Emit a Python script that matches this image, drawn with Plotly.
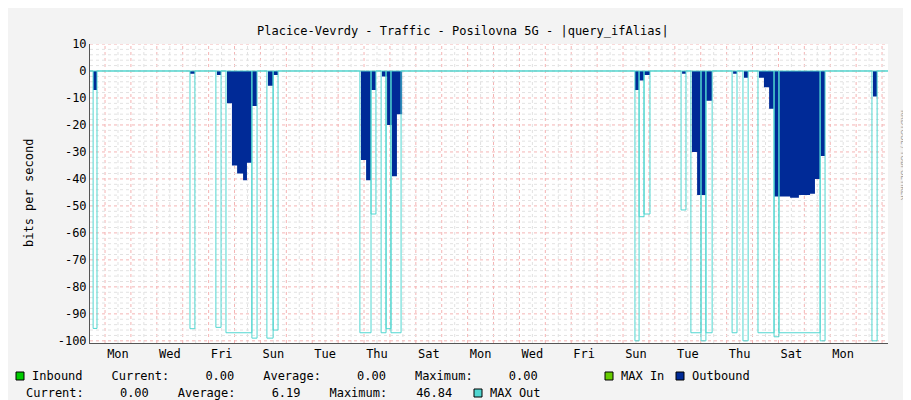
import plotly.graph_objects as go

# time in days from the left edge of the graph
out_start = [0.12, 3.86, 4.90, 5.29, 5.48, 5.68, 5.91, 6.06, 6.25, 6.87, 7.07,
             10.46, 10.66, 10.85, 11.27, 11.47, 11.66, 11.85,
             21.04, 21.20, 21.39, 22.86, 23.24, 23.44, 23.78, 24.83, 25.25,
             25.83, 26.02, 26.22, 26.41, 27.03, 27.37, 27.80, 27.99, 28.19, 30.23]
out_end = [0.27, 4.05, 5.06, 5.48, 5.68, 5.91, 6.06, 6.25, 6.45, 7.07, 7.26,
           10.66, 10.85, 11.04, 11.47, 11.66, 11.85, 12.05,
           21.20, 21.39, 21.62, 23.01, 23.44, 23.78, 24.02, 24.98, 25.41,
           26.02, 26.22, 26.41, 27.03, 27.37, 27.80, 27.99, 28.19, 28.38, 30.39]
out_val = [-7, -1, -1.5, -12, -35, -38, -40.5, -34, -13, -5.5, -1.5,
           -33, -40.5, -7, -2, -20, -39, -16,
           -7, -3.5, -1.5, -1, -30, -46, -11, -1, -2.5,
           -2.5, -6, -14, -46.5, -47, -46, -45.5, -40, -31.5, -9.5]

max_start = [0.12, 3.86, 4.86, 5.25, 6.25, 6.83, 7.07, 10.42, 10.85, 11.24, 11.43, 11.62,
             21.04, 21.20, 21.39, 22.82, 23.20, 23.59, 23.78, 24.79, 25.21,
             25.79, 26.41, 26.60, 28.19, 30.19]
max_end = [0.27, 4.05, 5.06, 6.25, 6.45, 7.07, 7.26, 10.85, 11.04, 11.43, 11.62, 12.01,
           21.20, 21.39, 21.62, 23.01, 23.59, 23.78, 24.02, 24.98, 25.41,
           26.41, 26.60, 28.19, 28.38, 30.39]
max_val = [-95.4, -95.5, -95, -97, -99, -99, -96, -97, -53, -97, -95.5, -97,
           -100, -54, -53, -51.5, -97, -100, -97, -97, -100,
           -97, -98.5, -97, -100, -100]

x_end = 30.81
tick_days = ["Mon", "Wed", "Fri", "Sun", "Tue", "Thu", "Sat", "Mon",
             "Wed", "Fri", "Sun", "Tue", "Thu", "Sat", "Mon"]
first_label = 1.08
first_midnight = 0.58
y_ticks = [10, 0, -10, -20, -30, -40, -50, -60, -70, -80, -90, -100]


def steps(starts, ends, vals):
    xs, ys = [0.0], [0.0]
    for s, e, v in zip(starts, ends, vals):
        xs += [s, e]
        ys += [v, 0]
    xs.append(x_end)
    ys.append(0)
    return xs, ys


fig = go.Figure()
ox, oy = steps(out_start, out_end, out_val)
fig.add_trace(go.Scatter(x=ox, y=oy, mode="lines", line=dict(shape="hv", width=0, color="#002A97"),
                         fill="tozeroy", fillcolor="#002A97", hoverinfo="skip"))
mx, my = steps(max_start, max_end, max_val)
fig.add_trace(go.Scatter(x=mx, y=my, mode="lines", line=dict(shape="hv", width=1, color="#50D6D0"),
                         hoverinfo="skip"))

shapes = []
k = 0
while first_midnight + k * 0.5 < x_end:
    xv = first_midnight + k * 0.5
    shapes.append(dict(type="line", xref="x", yref="paper", x0=xv, x1=xv, y0=0, y1=1,
                       line=dict(color="#F4B4B4" if k % 2 == 0 else "#E2E2E2", width=1, dash="dot"),
                       layer="below"))
    k += 1
for yv in range(-100, 11, 2):
    shapes.append(dict(type="line", xref="paper", yref="y", x0=0, x1=1, y0=yv, y1=yv,
                       line=dict(color="#F4B4B4" if yv % 10 == 0 else "#E2E2E2", width=1, dash="dot"),
                       layer="below"))
shapes.append(dict(type="line", xref="paper", yref="y", x0=0, x1=1, y0=0, y1=0,
                   line=dict(color="#50D6D0", width=1)))

L, R, T, B = 82, 880, 36, 335
W, H = R - L, B - T


def px(x):
    return (x - L) / W


def py(y):
    return (B - y) / H


annotations = []
mono = dict(family="DejaVu Sans Mono", size=12, color="#000")
legend_items = [
    (8, 368, "#00CC00", "Inbound    Current:     0.00    Average:     0.00    Maximum:     0.00"),
    (597, 368, "#66CC00", "MAX In"),
    (668, 368, "#002A97", "Outbound"),
    (466, 385, "#50D6D0", "MAX Out"),
]
for x0, y0, col, txt in legend_items:
    shapes.append(dict(type="rect", xref="paper", yref="paper", x0=px(x0), x1=px(x0 + 8),
                       y0=py(y0 + 4), y1=py(y0 - 4), fillcolor=col, line=dict(color="#000", width=1)))
    annotations.append(dict(x=px(x0 + 14), y=py(y0), xref="paper", yref="paper", text=txt.replace(" ", "&nbsp;"),
                            showarrow=False, xanchor="left", yanchor="middle", font=mono))
annotations.append(dict(x=px(16), y=py(385), xref="paper", yref="paper",
                        text="Current:     0.00    Average:     6.19    Maximum:    46.84".replace(" ", "&nbsp;"),
                        showarrow=False, xanchor="left", yanchor="middle", font=mono))
annotations.append(dict(x=px(901), y=py(100), xref="paper", yref="paper", text="RRDTOOL / TOBI OETIKER",
                        textangle=90, showarrow=False, font=dict(family="DejaVu Sans", size=7, color="#999")))
annotations.append(dict(x=px(455), y=py(14), xref="paper", yref="paper",
                        text="Placice-Vevrdy - Traffic - Posilovna 5G - |query_ifAlias|",
                        showarrow=False, font=dict(family="DejaVu Sans Mono", size=12, color="#000")))
annotations.append(dict(x=px(12), y=py(185), xref="paper", yref="paper", text="bits per second",
                        textangle=-90, showarrow=False, font=mono))

fig.update_layout(
    width=911, height=400, margin=dict(l=L, r=911 - R, t=T, b=400 - B, autoexpand=False),
    paper_bgcolor="#F3F3F3", plot_bgcolor="#FFFFFF", showlegend=False,
    shapes=shapes, annotations=annotations,
    xaxis=dict(range=[0, x_end], tickvals=[first_label + 2 * i for i in range(len(tick_days))],
               ticktext=tick_days, showgrid=False, zeroline=False, showline=True, linecolor="#555",
               ticks="", tickfont=mono, fixedrange=True, automargin=False),
    yaxis=dict(range=[-100.8, 10], tickvals=y_ticks, ticktext=[str(v) for v in y_ticks],
               showgrid=False, zeroline=False, showline=True, linecolor="#555", ticks="",
               tickfont=mono, fixedrange=True, automargin=False),
)
fig.write_html("out.html")
